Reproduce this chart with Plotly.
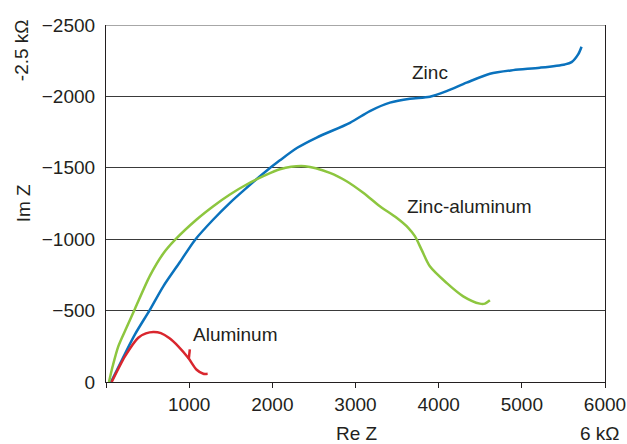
import plotly.graph_objects as go

# Zinc
zinc_re = [60, 200, 350, 529, 689, 889, 1070, 1290, 1490, 1691, 1891, 2091, 2300, 2533, 2933, 3173,
           3414, 3654, 3894, 4095, 4335, 4616, 4896, 5217, 5517, 5598, 5677, 5718]
zinc_im = [0, -165, -335, -507, -670, -840, -995, -1138, -1255, -1360, -1460, -1552, -1640, -1712, -1815, -1897,
           -1956, -1984, -1998, -2037, -2096, -2159, -2184, -2201, -2224, -2240, -2294, -2348]

# Zinc-aluminum
znal_re = [36, 80, 148, 250, 350, 529, 689, 829, 1090, 1290, 1490, 1691, 1891, 2091, 2392, 2692,
           2893, 3093, 3293, 3494, 3634, 3714, 3794, 3894, 4095, 4295, 4495, 4556, 4616]
znal_im = [0, -110, -250, -385, -515, -745, -900, -995, -1138, -1231, -1313, -1383, -1441, -1490, -1511, -1465,
           -1406, -1325, -1231, -1150, -1080, -1021, -927, -810, -694, -600, -549, -549, -572]

# Aluminum (main curve, then the small stroke near 1000)
al_re = [68, 150, 228, 388, 480, 569, 660, 760, 869, 990, 1090, 1170, 1222, None, 995, 1008]
al_im = [0, -95, -180, -310, -340, -350, -342, -308, -250, -168, -86, -58, -58, None, -160, -228]

x_ticks = [0, 1000, 2000, 3000, 4000, 5000, 6000]
x_labels = ["", "1000", "2000", "3000", "4000", "5000", "6000"]
y_ticks = [0, -500, -1000, -1500, -2000, -2500]

labels = [("Zinc", 3894, -2168), ("Zinc-aluminum", 4375, -1229), ("Aluminum", 1550, -332)]

txt = "#231f20"
font = dict(family="Liberation Sans, Arial, sans-serif", size=19, color=txt)

fig = go.Figure()
fig.add_trace(go.Scatter(x=zinc_re, y=zinc_im, mode="lines", line=dict(color="#0a72bd", width=2.5, shape="spline", smoothing=0.8)))
fig.add_trace(go.Scatter(x=znal_re, y=znal_im, mode="lines", line=dict(color="#8dc63f", width=2.5, shape="spline", smoothing=0.8)))
fig.add_trace(go.Scatter(x=al_re, y=al_im, mode="lines", line=dict(color="#d9262e", width=2.5, shape="spline", smoothing=0.8)))

for t, x, y in labels:
    fig.add_annotation(x=x, y=y, text=t, showarrow=False, font=font)

ann_axis = [("Im Z", -0.166, 0.501, -90), ("-2.5 kΩ", -0.168, 0.93, -90),
            ("Re Z", 0.503, -0.143, 0), ("6 kΩ", 0.99, -0.143, 0)]
for t, x, y, a in ann_axis:
    fig.add_annotation(x=x, y=y, xref="paper", yref="paper", text=t, showarrow=False,
                       font=font, textangle=a, xanchor="center", yanchor="middle")

fig.add_shape(type="line", xref="paper", yref="y", x0=0, x1=1, y0=-2500, y1=-2500,
              line=dict(color="#8a8a8a", width=1.5), layer="above")

fig.update_layout(
    width=627, height=444,
    margin=dict(l=106, r=22, t=25, b=62, autoexpand=False),
    paper_bgcolor="white", plot_bgcolor="white",
    showlegend=False, font=font,
)
fig.update_xaxes(range=[0, 6000], tickvals=x_ticks, ticktext=x_labels, ticks="outside", ticklen=5,
                 tickcolor=txt, showline=True, linecolor=txt, linewidth=1.2, showgrid=False,
                 zeroline=False, tickfont=font, automargin=False)
fig.update_yaxes(range=[0, -2500], tickvals=y_ticks, ticks="", showline=True, linecolor=txt,
                 linewidth=1.2, mirror=True, showgrid=True, gridcolor="#3a3a3a", gridwidth=1,
                 zeroline=False, tickfont=font, ticklabelstandoff=6, automargin=False)

fig.write_html("out.html", config={"displayModeBar": False},
               post_script="document.body.style.margin='0';document.body.style.overflow='hidden';")
